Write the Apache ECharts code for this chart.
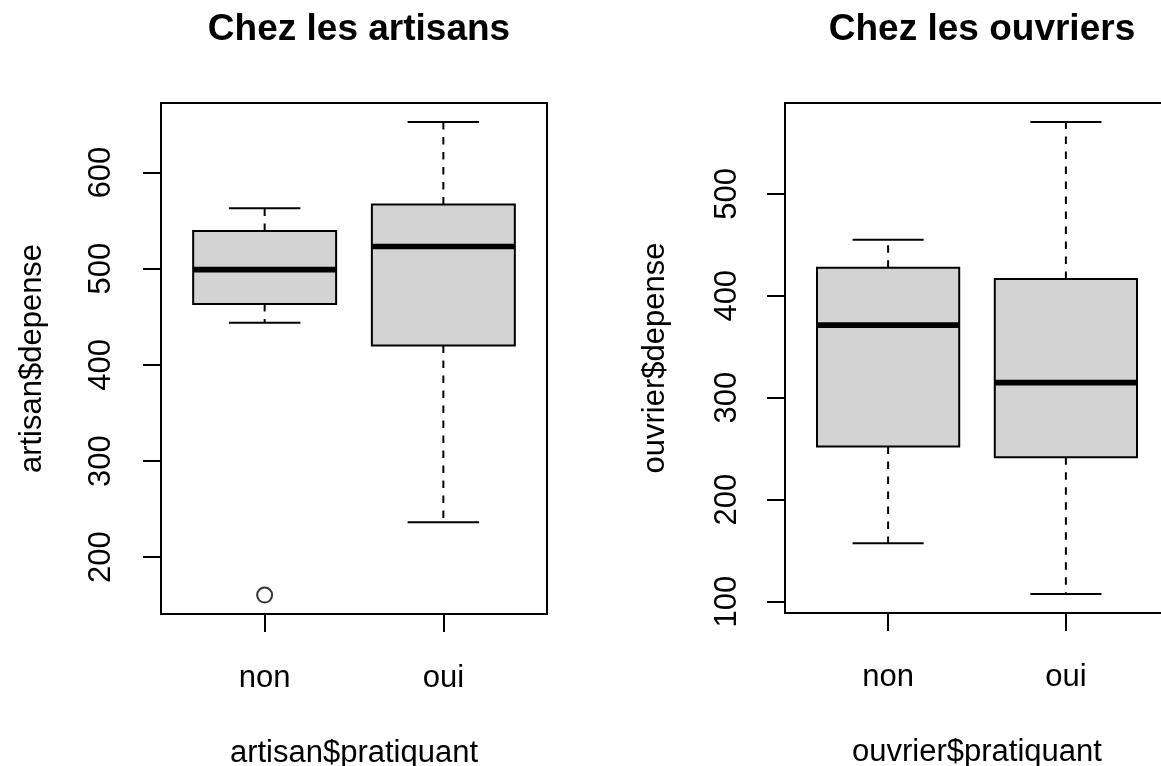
<!DOCTYPE html>
<html>
<head>
<meta charset="utf-8">
<script src="https://cdn.jsdelivr.net/npm/echarts@6/dist/echarts.min.js"></script>
<style>
html, body { margin: 0; padding: 0; background: #fff; }
#chart { width: 1161px; height: 766px; }
</style>
</head>
<body>
<div id="chart"></div>
<script>
var categories = ['non', 'oui'];
// [min, Q1, mediane, Q3, max] par categorie
var artisanStats = [[443.9, 463.2, 499, 539.1, 562.8], [236.2, 420.2, 523, 566.7, 652.6]];
var artisanOutliers = [[1, 160.6]];
var ouvrierStats = [[157.3, 252.1, 371.2, 427.5, 454.8], [107.4, 241.7, 314.8, 416.4, 570.5]];
var ouvrierOutliers = [];
var artisanTicks = [200, 300, 400, 500, 600];
var ouvrierTicks = [100, 200, 300, 400, 500];
var catTicks = [1, 2];
var titles = ['Chez les artisans', 'Chez les ouvriers'];
var xNames = ['artisan$pratiquant', 'ouvrier$pratiquant'];
var yNames = ['artisan$depense', 'ouvrier$depense'];

var font = '"Liberation Sans", Arial, Helvetica, sans-serif';

// limites comme R : etendue des donnees + 4%
function rRange(stats, outliers) {
    var vals = [];
    stats.forEach(function (s) { vals = vals.concat(s); });
    outliers.forEach(function (o) { vals.push(o[1]); });
    var lo = Math.min.apply(null, vals), hi = Math.max.apply(null, vals);
    var pad = (hi - lo) * 0.04;
    return [lo - pad, hi + pad];
}

function renderBox(params, api) {
    var x = api.value(0);
    var lo = api.value(1), q1 = api.value(2), med = api.value(3), q3 = api.value(4), hi = api.value(5);
    var c = function (xx, yy) { return api.coord([xx, yy]); };
    var dash = { stroke: '#000', lineWidth: 2, lineDash: [7.5, 7.5] };
    var solid = { stroke: '#000', lineWidth: 2 };
    var tl = c(x - 0.4, q3), br = c(x + 0.4, q1);
    function seg(a, b, style) {
        return { type: 'line', shape: { x1: a[0], y1: a[1], x2: b[0], y2: b[1] }, style: style };
    }
    return {
        type: 'group',
        children: [
            seg(c(x, q3), c(x, hi), dash),
            seg(c(x, q1), c(x, lo), dash),
            seg(c(x - 0.2, hi), c(x + 0.2, hi), solid),
            seg(c(x - 0.2, lo), c(x + 0.2, lo), solid),
            {
                type: 'rect',
                shape: { x: tl[0], y: tl[1], width: br[0] - tl[0], height: br[1] - tl[1] },
                style: { fill: '#d3d3d3', stroke: '#000', lineWidth: 2 }
            },
            seg(c(x - 0.4, med), c(x + 0.4, med), { stroke: '#000', lineWidth: 5.6 })
        ]
    };
}

function xAxisFor(i) {
    return {
        type: 'value', gridIndex: i, min: 0.42, max: 2.58,
        name: xNames[i], nameLocation: 'middle', nameGap: 124,
        nameTextStyle: { fontFamily: font, fontSize: 31, color: '#000' },
        axisLine: { show: false },
        splitLine: { show: false },
        axisTick: { customValues: catTicks, length: 18, lineStyle: { color: '#000', width: 2 } },
        axisLabel: {
            customValues: catTicks, margin: 49,
            fontFamily: font, fontSize: 31, color: '#000',
            formatter: function (v) { return categories[Math.round(v) - 1]; }
        }
    };
}

function yAxisFor(i, range, ticks, margin, gap) {
    return {
        type: 'value', gridIndex: i, min: range[0], max: range[1],
        name: yNames[i], nameLocation: 'middle', nameGap: gap,
        nameTextStyle: { fontFamily: font, fontSize: 31, color: '#000' },
        axisLine: { show: false },
        splitLine: { show: false },
        axisTick: { customValues: ticks, length: 18, lineStyle: { color: '#000', width: 2 } },
        axisLabel: {
            customValues: ticks, rotate: 90, margin: margin,
            fontFamily: font, fontSize: 31, color: '#000'
        }
    };
}

function boxData(stats) {
    return stats.map(function (s, i) { return [i + 1].concat(s); });
}

var chart = echarts.init(document.getElementById('chart'));
chart.setOption({
    animation: false,
    backgroundColor: '#fff',
    title: [
        { text: titles[0], left: 354, top: 6, textAlign: 'center',
          textStyle: { fontFamily: font, fontSize: 37, fontWeight: 'bold', color: '#000' } },
        { text: titles[1], left: 977, top: 6, textAlign: 'center',
          textStyle: { fontFamily: font, fontSize: 37, fontWeight: 'bold', color: '#000' } }
    ],
    grid: [
        { left: 161, top: 103, width: 386, height: 511, outerBoundsMode: 'none',
          show: true, borderColor: '#000', borderWidth: 2 },
        { left: 785, top: 103, width: 384, height: 510, outerBoundsMode: 'none',
          show: true, borderColor: '#000', borderWidth: 2 }
    ],
    xAxis: [xAxisFor(0), xAxisFor(1)],
    yAxis: [
        yAxisFor(0, rRange(artisanStats, artisanOutliers), artisanTicks, 44, 113),
        yAxisFor(1, rRange(ouvrierStats, ouvrierOutliers), ouvrierTicks, 42, 114)
    ],
    series: [
        { type: 'custom', xAxisIndex: 0, yAxisIndex: 0, renderItem: renderBox, data: boxData(artisanStats) },
        { type: 'scatter', xAxisIndex: 0, yAxisIndex: 0, data: artisanOutliers,
          symbol: 'emptyCircle', symbolSize: 15,
          itemStyle: { color: '#000', borderColor: '#000', borderWidth: 2.2 } },
        { type: 'custom', xAxisIndex: 1, yAxisIndex: 1, renderItem: renderBox, data: boxData(ouvrierStats) },
        { type: 'scatter', xAxisIndex: 1, yAxisIndex: 1, data: ouvrierOutliers,
          symbol: 'emptyCircle', symbolSize: 15,
          itemStyle: { color: '#000', borderColor: '#000', borderWidth: 2.2 } }
    ]
});
</script>
</body>
</html>
